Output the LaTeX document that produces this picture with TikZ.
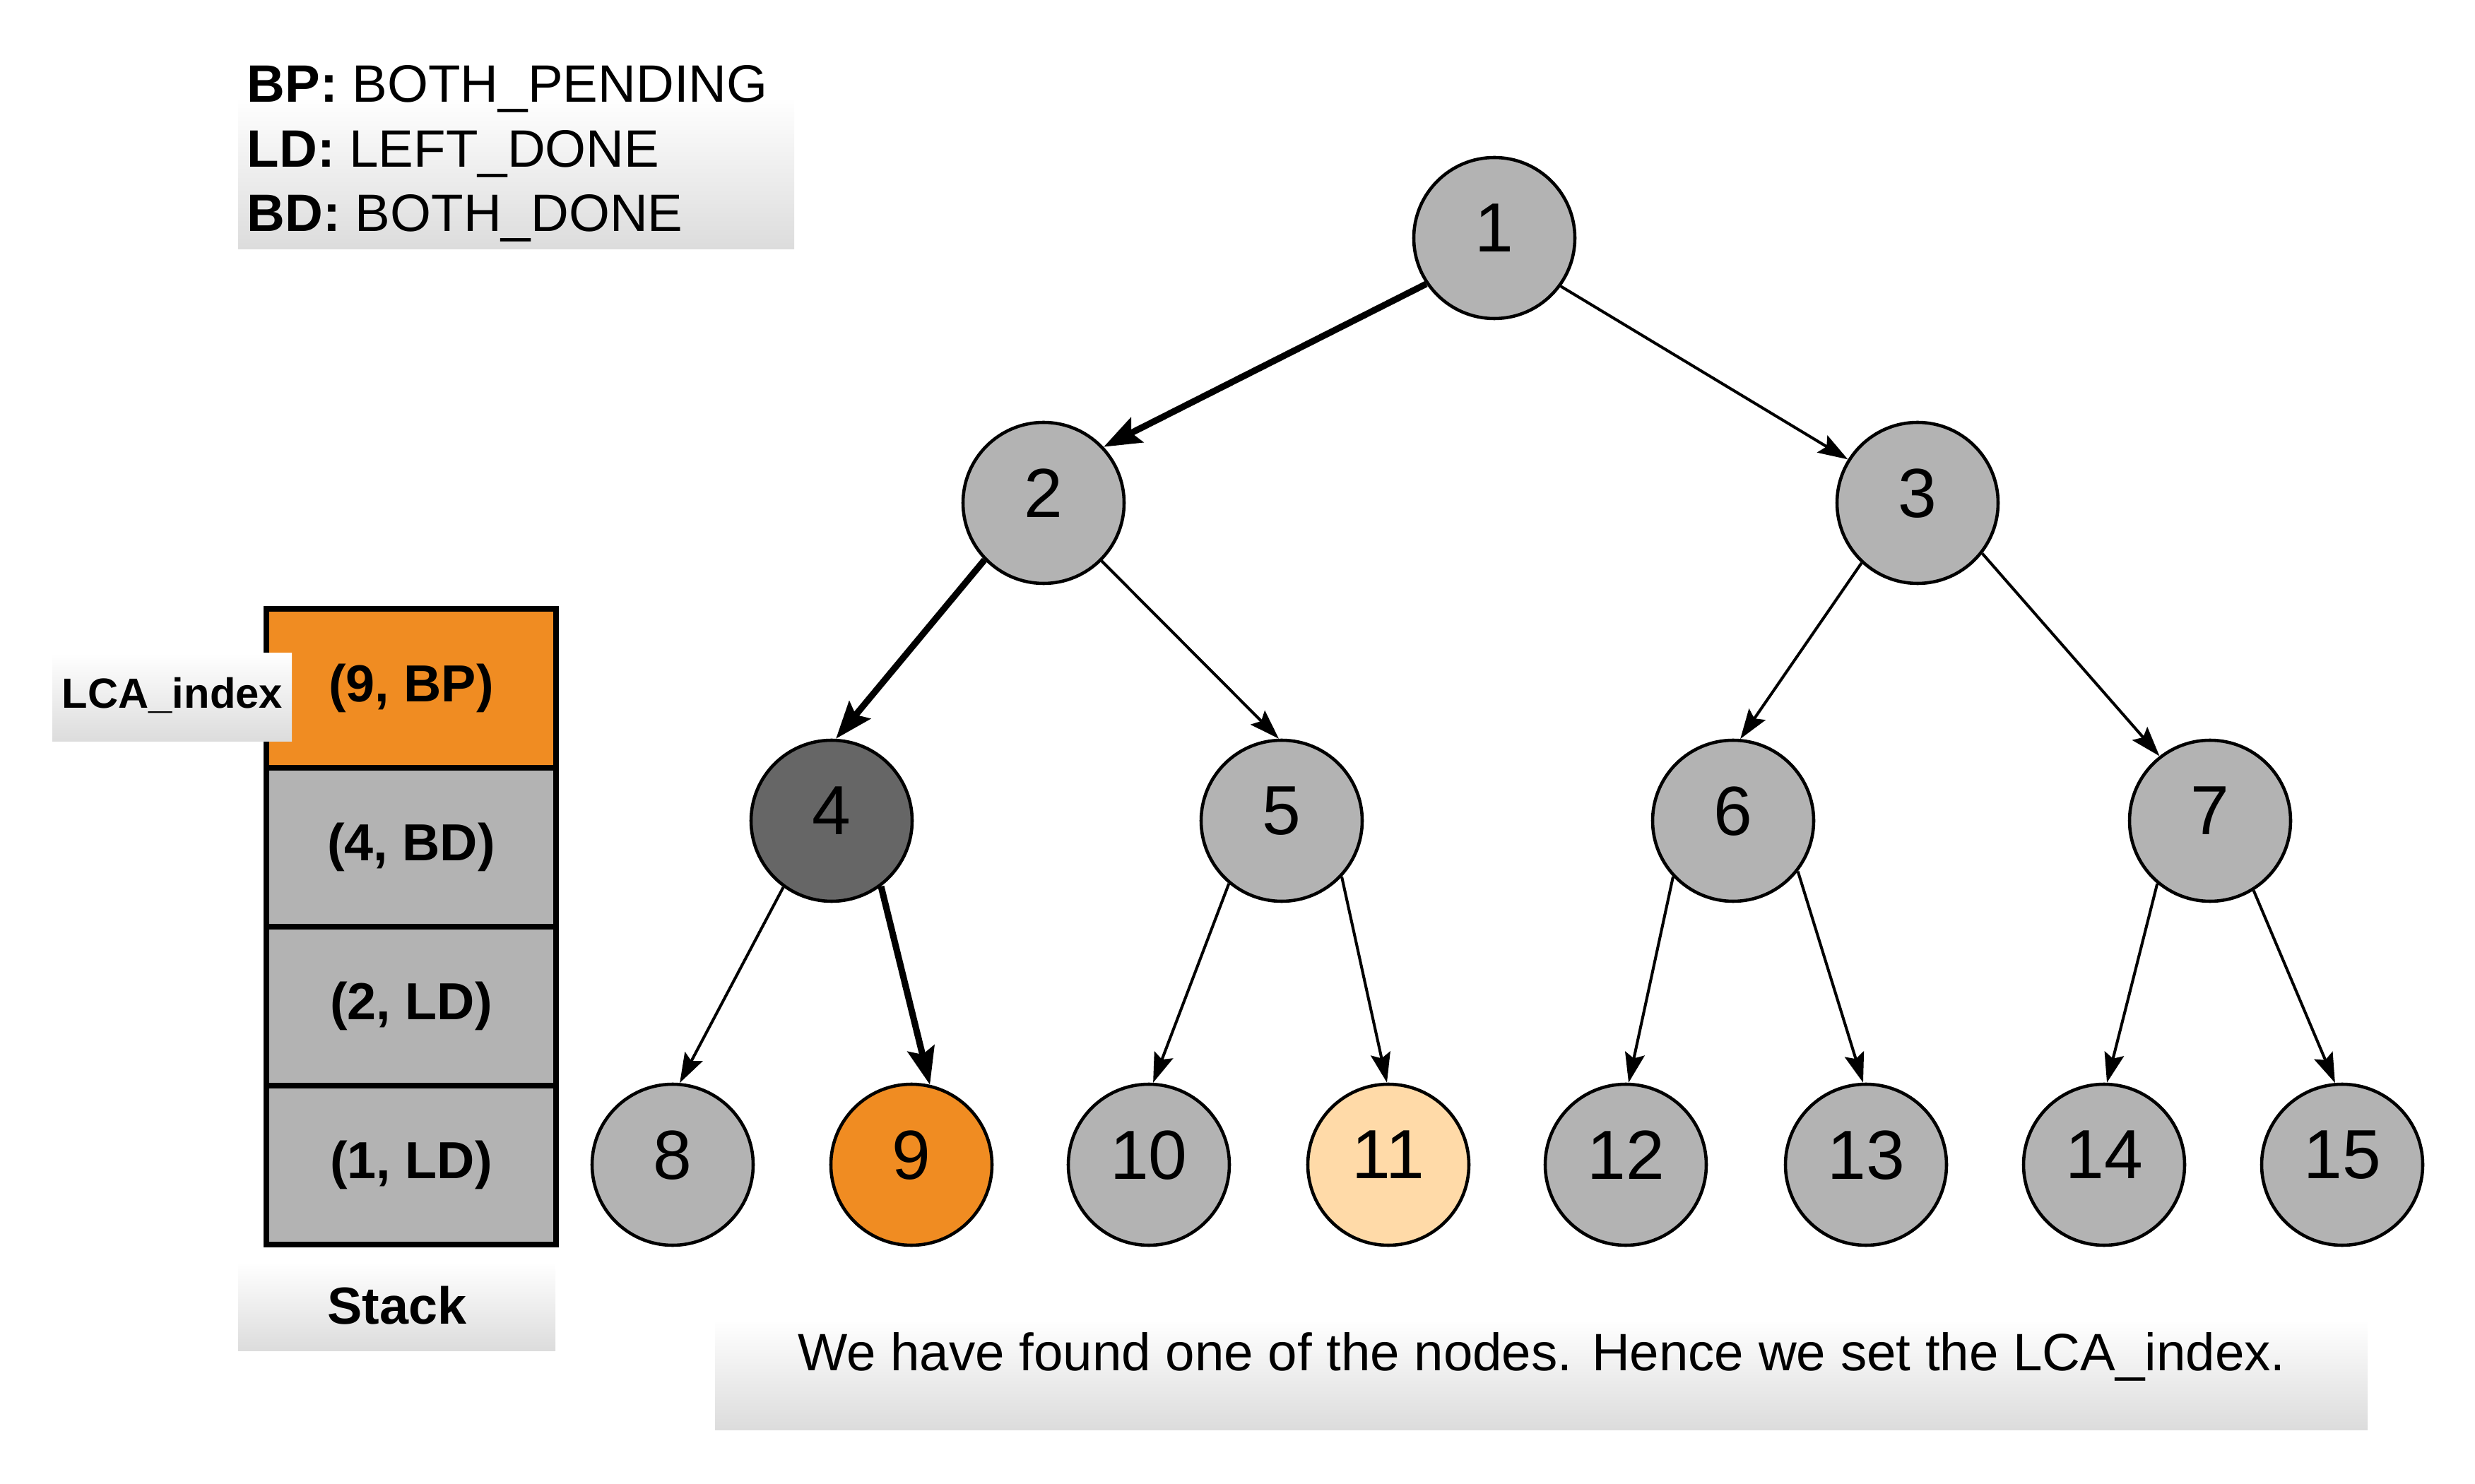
\documentclass[tikz,border=0pt]{standalone}
\usepackage{fontspec}
\setmainfont{Liberation Sans}
\usepackage{tikz}
\usetikzlibrary{arrows.meta, positioning, calc}
\definecolor{nodegray}{HTML}{B3B3B3}
\definecolor{darknode}{HTML}{666666}
\definecolor{hitorange}{HTML}{F08C22}
\definecolor{paleorange}{HTML}{FFDAA8}
\definecolor{boxgray}{HTML}{DCDCDC}

\tikzset{
  treenode/.style={circle, draw=black, line width=1.3pt, minimum size=2.28cm, inner sep=0pt, text depth=0.28cm, font=\fontsize{28}{34}\selectfont},
  link/.style={line width=1.15pt, -{Stealth[length=12pt, width=8pt, inset=2pt]}},
  hotlink/.style={line width=2.6pt, -{Stealth[length=15pt, width=11pt, inset=2.5pt]}},
  stackcell/.style={rectangle, draw=black, line width=2pt, minimum width=4.1cm, minimum height=2.25cm, inner sep=0pt, font=\fontsize{21}{25}\selectfont\bfseries},
  shadebox/.style={shade, top color=white, bottom color=boxgray, draw=none},
  bigtext/.style={font=\fontsize{21.2}{26}\selectfont, inner sep=0pt}
}

\begin{document}
\begin{tikzpicture}
  \useasboundingbox (0,0) rectangle (35.03,21);

  % legend
  \path[shadebox] (3.37,17.47) rectangle (11.24,19.63);
  \foreach \k/\y/\short/\long in {BP/19.55/BP/BOTH\_PENDING, LD/18.63/LD/LEFT\_DONE, BD/17.72/BD/BOTH\_DONE} {
    \node[bigtext, anchor=base west] (leg\k) at (3.49,\y) {\textbf{\short:} \long};
  }

  % tree
  \node[treenode, fill=nodegray] (n1) at (21.15,17.63) {1};
  \node[treenode, fill=nodegray] (n2) at (14.77,13.88) {2};
  \node[treenode, fill=nodegray] (n3) at (27.14,13.88) {3};
  \node[treenode, fill=darknode] (n4) at (11.77,9.38) {4};
  \node[treenode, fill=nodegray] (n5) at (18.14,9.38) {5};
  \node[treenode, fill=nodegray] (n6) at (24.53,9.38) {6};
  \node[treenode, fill=nodegray] (n7) at (31.28,9.38) {7};
  \foreach \i/\x/\col in {8/9.52/nodegray, 9/12.90/hitorange, 10/16.26/nodegray, 11/19.65/paleorange,
                          12/23.01/nodegray, 13/26.41/nodegray, 14/29.78/nodegray, 15/33.15/nodegray} {
    \node[treenode, fill=\col] (n\i) at (\x,4.51) {\i};
  }

  % edges, the path to 9 is thick
  \draw[hotlink] (n1.214) -- (n2.43);
  \draw[hotlink] (n2.224) -- (n4.87);
  \draw[hotlink] (n4.307) -- (n9.77);
  \foreach \a/\sa/\b/\eb in {1/324/3/148, 2/315/5/92, 3/227/6/85, 3/322/7/128, 4/234/8/85,
                             5/230/10/87, 5/317/11/91, 6/223/12/88, 6/322/13/92, 7/230/14/88, 7/302/15/95} {
    \draw[link] (n\a.\sa) -- (n\b.\eb);
  }

  % stack
  \foreach \r/\y/\txt/\col in {1/11.255/{(9, BP)}/hitorange, 2/9.005/{(4, BD)}/nodegray,
                               3/6.755/{(2, LD)}/nodegray, 4/4.505/{(1, LD)}/nodegray} {
    \node[stackcell, fill=\col] (s\r) at (5.82,\y) {\txt};
  }
  \path[shadebox] (0.74,10.50) rectangle (4.13,11.75);
  \node[font=\fontsize{17}{20}\selectfont\bfseries, inner sep=0pt, anchor=base] (lca) at (2.44,10.97) {LCA\_index};
  \path[shadebox] (3.37,1.88) rectangle (7.86,3.13);
  \node[font=\fontsize{21}{25}\selectfont\bfseries, inner sep=0pt] (stacklbl) at (5.62,2.52) {Stack};

  % caption
  \path[shadebox] (10.12,0.76) rectangle (33.51,2.32);
  \node[bigtext, anchor=base] (caption) at (21.82,1.60) {We have found one of the nodes. Hence we set the LCA\_index.};
\end{tikzpicture}
\end{document}
